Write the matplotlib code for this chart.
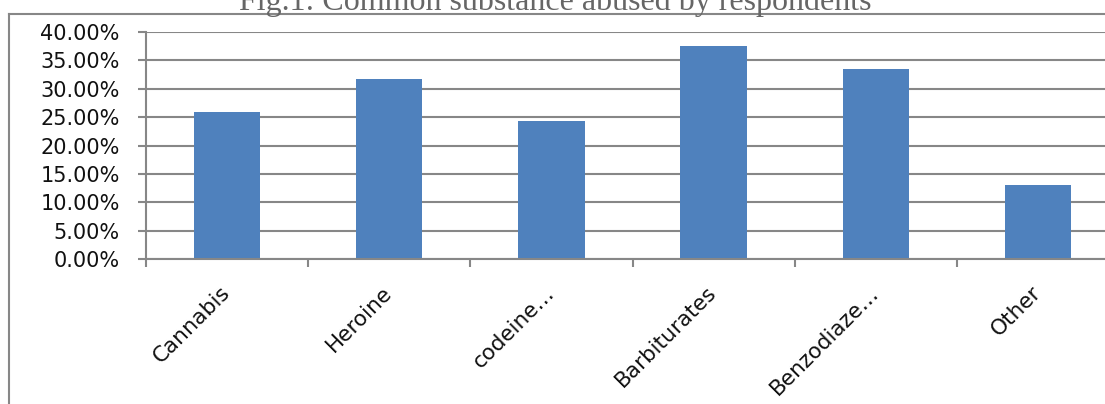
import matplotlib.pyplot as plt
from matplotlib.lines import Line2D
from matplotlib.ticker import FuncFormatter, FixedLocator

# data
substances = ["Cannabis", "Heroine", "codeine\u2026", "Barbiturates", "Benzodiaze\u2026", "Other"]
shares = [0.259, 0.317, 0.243, 0.375, 0.335, 0.130]
title = "Fig.1: Common substance abused by respondents"

grey = "#878787"
blue = "#4F81BD"

fig = plt.figure(figsize=(11.05, 4.04), dpi=100)

# outer chart frame (cropped on right and bottom in the original)
W, H = 1105, 404
fig.add_artist(Line2D([9 / W, 1.0], [1 - 14 / H, 1 - 14 / H], color=grey, lw=1.5))
fig.add_artist(Line2D([9 / W, 9 / W], [1 - 14 / H, 0.0], color=grey, lw=1.5))

# title, partly cut off at the top like in the source
fig.text(555 / W, 1 - 10 / H, title, ha="center", va="baseline",
         family="Liberation Serif", fontsize=23, color="#666666")

# plot area runs a little past the right edge
ax = fig.add_axes([146 / W, 1 - 259 / H, 973 / W, 227 / H])

x = range(len(substances))
ax.bar(x, shares, width=0.41, color=blue, zorder=3)

ax.set_xlim(-0.5, len(substances) - 0.5)
ax.set_ylim(0, 0.40)
ax.set_yticks([i * 0.05 for i in range(9)])
ax.yaxis.set_major_formatter(FuncFormatter(lambda v, p: f"{v * 100:.2f}%"))
ax.yaxis.grid(True, color=grey, lw=1.5, zorder=0)

ax.set_xticks(list(x))
ax.set_xticklabels(substances, rotation=45, ha="right", rotation_mode="anchor", va="center")
ax.xaxis.set_minor_locator(FixedLocator([i - 0.5 for i in range(len(substances) + 1)]))

ax.tick_params(axis="x", which="major", length=0, pad=22, labelsize=15.5, labelcolor="#111111")
ax.tick_params(axis="x", which="minor", length=6, width=1.5, color=grey)
ax.tick_params(axis="y", length=6, width=1.5, color=grey, pad=13, labelsize=15, labelcolor="#111111")

for s in ["top", "right"]:
    ax.spines[s].set_visible(False)
for s in ["left", "bottom"]:
    ax.spines[s].set_color(grey)
    ax.spines[s].set_linewidth(1.5)
    ax.spines[s].set_zorder(4)

fig.savefig("out.png", dpi=100)
